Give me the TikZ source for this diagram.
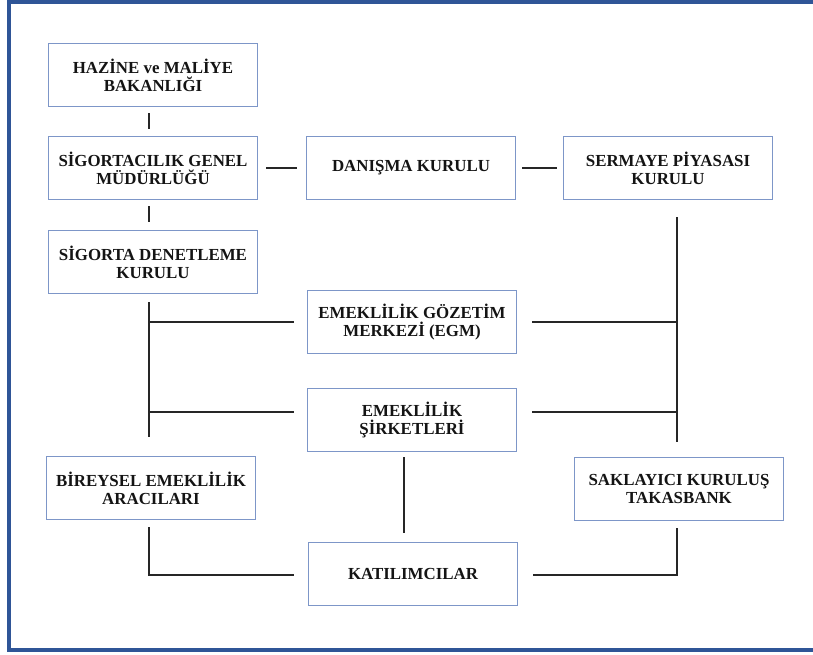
\documentclass[tikz,border=0pt]{standalone}
\usepackage{fontspec}
\setmainfont{Liberation Serif}
\usetikzlibrary{positioning, calc}
\definecolor{framecol}{RGB}{47,85,151}
\definecolor{boxcol}{RGB}{125,150,200}

\begin{document}
\begin{tikzpicture}[
  x=0.025cm, y=-0.025cm,
  font=\bfseries\fontsize{12}{12.6}\selectfont,
  box/.style={draw=boxcol, line width=1.1pt, align=center, inner sep=2pt,
              minimum width=5.22cm, minimum height=1.58cm, text=black!92},
  ln/.style={draw=black!85, line width=0.8pt},
]
\useasboundingbox (0,0) rectangle (813,655);
\clip (0,0) rectangle (813,655);
\draw[framecol, line width=2.8pt] (9,2) rectangle (830,650);

%% left column
\node[box] (haz) at (153,75)  {HAZİNE ve MALİYE\\BAKANLIĞI};
\node[box] (sgm) at (153,168) {SİGORTACILIK GENEL\\MÜDÜRLÜĞÜ};
\node[box] (sdk) at (153,262) {SİGORTA DENETLEME\\KURULU};
\node[box] (bea) at (151,488) {BİREYSEL EMEKLİLİK\\ARACILARI};

%% middle column
\node[box] (dan)  at (411,168) {DANIŞMA KURULU};
\node[box] (egm)  at (412,322) {EMEKLİLİK GÖZETİM\\MERKEZİ (EGM)};
\node[box] (sirk) at (412,420) {EMEKLİLİK\\ŞİRKETLERİ};
\node[box] (kat)  at (413,574) {KATILIMCILAR};

%% right column
\node[box] (spk) at (668,168) {SERMAYE PİYASASI\\KURULU};
\node[box] (tak) at (679,489) {SAKLAYICI KURULUŞ\\TAKASBANK};

%% spine ends and branch points
\coordinate (lend) at (149,437);
\coordinate (rend) at (677,442);
\coordinate (sl) at ($(sirk.west)+(-13,-8)$);
\coordinate (sr) at ($(sirk.east)+(15,-8)$);

\draw[ln] ($(haz.south)+(-4,6)$) -- ($(sgm.north)+(-4,-7)$);
\draw[ln] ($(sgm.south)+(-4,6)$) -- ($(sdk.north)+(-4,-8)$);
\draw[ln] ($(sgm.east)+(8,0)$) -- ($(dan.west)+(-9,0)$);
\draw[ln] ($(dan.east)+(6,0)$) -- ($(spk.west)+(-6,0)$);

\draw[ln] ($(sdk.south)+(-4,8)$) -- (lend);
\draw[ln] (egm.west -| lend) -- ($(egm.west)+(-13,0)$);
\draw[ln] (sl -| lend) -- (sl);

\draw[ln] ($(spk.south)+(9,17)$) -- (rend);
\draw[ln] ($(egm.east)+(15,0)$) -- (egm.east -| rend);
\draw[ln] (sr) -- (sr -| rend);

\draw[ln] ($(sirk.south)+(-8,5)$) -- ($(kat.north)+(-9,-9)$);
\draw[ln] ($(bea.south)+(-2,7)$) |- ($(kat.west)+(-14,1)$);
\draw[ln] ($(tak.south)+(-2,7)$) |- ($(kat.east)+(15,1)$);
\end{tikzpicture}
\end{document}
